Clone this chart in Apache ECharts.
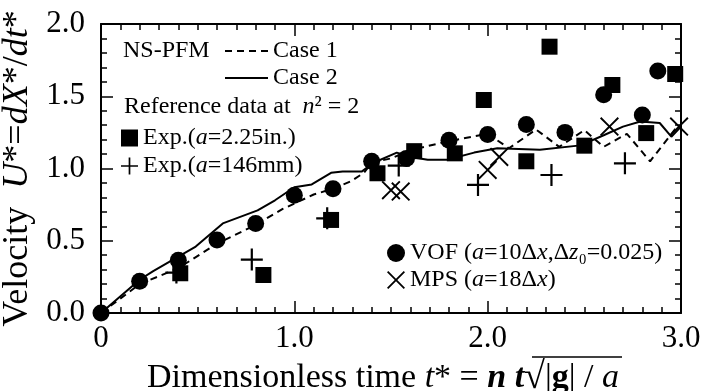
<!DOCTYPE html>
<html>
<head>
<meta charset="utf-8">
<script src="https://cdn.jsdelivr.net/npm/echarts@6/dist/echarts.min.js"></script>
<style>
  html, body { margin: 0; padding: 0; background: #fff; }
  #chart { width: 704px; height: 391px; }
  #err { position: absolute; left: 110px; top: 200px; font: 11px monospace; color: red; white-space: pre; }
</style>
</head>
<body>
<div id="chart"></div>
<div id="err"></div>
<script>
// NS-PFM simulation curves
const case1T = [0, 0.2, 0.4, 0.6, 0.8, 0.94, 1.1, 1.2, 1.29, 1.36, 1.4, 1.5, 1.61, 1.8, 2.0, 2.11, 2.25, 2.37, 2.5, 2.6, 2.72, 2.84, 2.98];
const case1U = [0, 0.2, 0.31, 0.48, 0.61, 0.72, 0.82, 0.86, 0.91, 0.97, 1.04, 1.07, 1.13, 1.19, 1.24, 1.14, 1.27, 1.15, 1.265, 1.15, 1.24, 1.05, 1.29];
const case2T = [0, 0.2, 0.27, 0.4, 0.49, 0.63, 0.81, 0.9, 1.0, 1.09, 1.19, 1.25, 1.35, 1.41, 1.53, 1.6, 1.69, 1.79, 1.93, 2.05, 2.27, 2.48, 2.6, 2.7, 2.79, 2.89, 2.95, 3.0];
const case2U = [0, 0.23, 0.29, 0.39, 0.46, 0.62, 0.71, 0.78, 0.87, 0.89, 0.97, 0.98, 0.98, 1.04, 1.11, 1.08, 1.06, 1.06, 1.11, 1.14, 1.13, 1.16, 1.23, 1.29, 1.325, 1.315, 1.22, 1.29];
// reference data
const expInT = [0.41, 0.84, 1.19, 1.43, 1.62, 1.83, 1.98, 2.2, 2.32, 2.5, 2.645, 2.82, 2.97];
const expInU = [0.275, 0.263, 0.644, 0.967, 1.12, 1.105, 1.474, 1.05, 1.843, 1.158, 1.578, 1.245, 1.654];
const expMmT = [0.39, 0.78, 1.17, 1.54, 1.95, 2.33, 2.71];
const expMmU = [0.28, 0.37, 0.655, 1.02, 0.886, 0.955, 1.036];
const vofT = [0, 0.2, 0.4, 0.6, 0.8, 1.0, 1.2, 1.4, 1.58, 1.8, 2.0, 2.2, 2.4, 2.6, 2.8, 2.88];
const vofU = [0, 0.22, 0.365, 0.505, 0.62, 0.815, 0.86, 1.05, 1.07, 1.195, 1.235, 1.305, 1.25, 1.51, 1.37, 1.675];
const mpsT = [1.5, 1.55, 2.0, 2.06, 2.63, 2.99];
const mpsU = [0.85, 0.84, 0.99, 1.08, 1.29, 1.29];

const FONT = "'Liberation Serif', 'Times New Roman', serif";
const pairs = (xs, ys) => xs.map((x, i) => [x, ys[i]]);

const plusPath = 'path://M9,0h2v9h9v2h-9v9h-2v-9h-9v-2h9z';
const crossPath = 'path://M0,1.4L1.4,0L10,8.6L18.6,0L20,1.4L11.4,10L20,18.6L18.6,20L10,11.4L1.4,20L0,18.6L8.6,10z';

const legendText = {
  'Case 1': '{n|Case 1}',
  'Case 2': '{n|Case 2}',
  'Exp.(a=2.25in.)': '{n|Exp.(}{i|a}{n|=2.25in.)}',
  'Exp.(a=146mm)': '{n|Exp.(}{i|a}{n|=146mm)}',
  'VOF (a=10Δx,Δz0=0.025)': '{n|VOF (}{i|a}{n|=10Δ}{i|x}{n|,Δ}{i|z}{n|₀=0.025)}',
  'MPS (a=18Δx)': '{n|MPS (}{i|a}{n|=18Δ}{i|x}{n|)}'
};
const rich = {
  n: { fontFamily: FONT, fontSize: 24, color: '#000' },
  i: { fontFamily: FONT, fontSize: 24, fontStyle: 'italic', color: '#000' }
};
const legendBase = {
  orient: 'vertical',
  align: 'left',
  padding: 0,
  selectedMode: false,
  formatter: name => legendText[name],
  textStyle: { rich }
};

const axisCommon = (splitNumber) => ({
  axisLine: { show: true, lineStyle: { color: '#000', width: 2 }, onZero: false },
  axisTick: { show: true, inside: true, length: 12, lineStyle: { color: '#000', width: 1.5 } },
  minorTick: { show: true, splitNumber, length: 6, lineStyle: { color: '#000', width: 1.5 } },
  splitLine: { show: false }
});
const noLabel = { show: false };

try {
  const chart = echarts.init(document.getElementById('chart'));
  const option = {
    animation: false,
    grid: { left: 101, right: 23, top: 24, bottom: 78, containLabel: false, outerBoundsMode: 'none' },
    xAxis: [
      Object.assign(axisCommon(10), {
        type: 'value', min: 0, max: 3, interval: 1, position: 'bottom',
        axisLabel: {
          margin: 10, color: '#000', fontFamily: FONT, fontSize: 31,
          formatter: v => (v === 0 ? '0' : v.toFixed(1))
        },
        name: '{n|Dimensionless time }{i|t}{n|* = }{bi|n t}{sq|√}{n||}{b|g}{n|| / }{i|a}',
        nameLocation: 'middle',
        nameGap: 36,
        nameTextStyle: {
          padding: [0, 16, 0, 0],
          rich: {
            n: { fontFamily: FONT, fontSize: 34, color: '#000' },
            i: { fontFamily: FONT, fontSize: 34, fontStyle: 'italic', color: '#000' },
            bi: { fontFamily: FONT, fontSize: 34, fontStyle: 'italic', fontWeight: 'bold', color: '#000' },
            b: { fontFamily: FONT, fontSize: 34, fontWeight: 'bold', color: '#000' },
            sq: { fontFamily: FONT, fontSize: 38, color: '#000' }
          }
        }
      }),
      Object.assign(axisCommon(10), {
        type: 'value', min: 0, max: 3, interval: 1, position: 'top',
        axisLabel: noLabel
      })
    ],
    yAxis: [
      Object.assign(axisCommon(5), {
        type: 'value', min: 0, max: 2, interval: 0.5, position: 'left',
        axisLabel: {
          margin: 16, color: '#000', fontFamily: FONT, fontSize: 31,
          formatter: v => v.toFixed(1)
        },
        name: '{n|Velocity  }{i|U}{n|*=}{i|dX}{n|*/}{i|dt}{n|*}',
        nameLocation: 'middle',
        nameGap: 43,
        nameTextStyle: {
          rich: {
            n: { fontFamily: FONT, fontSize: 36, color: '#000' },
            i: { fontFamily: FONT, fontSize: 36, fontStyle: 'italic', color: '#000' }
          }
        }
      }),
      Object.assign(axisCommon(5), {
        type: 'value', min: 0, max: 2, interval: 0.5, position: 'right',
        axisLabel: noLabel
      })
    ],
    legend: [
      Object.assign({}, legendBase, {
        data: ['Case 1', 'Case 2'],
        left: 224, top: 39, itemWidth: 43, itemHeight: 24, itemGap: 3,
        itemStyle: { opacity: 0 }
      }),
      Object.assign({}, legendBase, {
        data: ['Exp.(a=2.25in.)', 'Exp.(a=146mm)'],
        left: 121, top: 126, itemWidth: 17, itemHeight: 17, itemGap: 4
      }),
      Object.assign({}, legendBase, {
        data: ['VOF (a=10Δx,Δz0=0.025)', 'MPS (a=18Δx)'],
        left: 387, top: 241, itemWidth: 18, itemHeight: 18, itemGap: 3
      })
    ],
    graphic: [
      {
        type: 'text', left: 123, top: 39, silent: true,
        style: { text: 'NS-PFM', font: '24px ' + FONT, fill: '#000' }
      },
      {
        type: 'text', left: 124, top: 95, silent: true,
        style: {
          text: '{n|Reference data at  }{i|n}{n|² = 2}',
          rich: rich
        }
      },
      {
        type: 'line', silent: true,
        shape: { x1: 532, y1: 357, x2: 622, y2: 357 },
        style: { stroke: '#000', lineWidth: 1.5 }
      }
    ],
    series: [
      {
        name: 'Case 1', type: 'line', data: pairs(case1T, case1U),
        symbol: 'none', lineStyle: { color: '#000', width: 2, type: [7, 5] }, z: 2
      },
      {
        name: 'Case 2', type: 'line', data: pairs(case2T, case2U),
        symbol: 'none', lineStyle: { color: '#000', width: 2 }, z: 2
      },
      {
        name: 'Exp.(a=2.25in.)', type: 'scatter', data: pairs(expInT, expInU),
        symbol: 'rect', symbolSize: 16, itemStyle: { color: '#000', opacity: 1 }, z: 3
      },
      {
        name: 'Exp.(a=146mm)', type: 'scatter', data: pairs(expMmT, expMmU),
        symbol: plusPath, symbolSize: 22, itemStyle: { color: '#000', opacity: 1 }, z: 3
      },
      {
        name: 'VOF (a=10Δx,Δz0=0.025)', type: 'scatter', data: pairs(vofT, vofU),
        symbol: 'circle', symbolSize: 17, itemStyle: { color: '#000', opacity: 1 }, z: 3
      },
      {
        name: 'MPS (a=18Δx)', type: 'scatter', data: pairs(mpsT, mpsU),
        symbol: crossPath, symbolSize: 19, itemStyle: { color: '#000', opacity: 1 }, z: 3
      }
    ]
  };
  chart.setOption(option);
} catch (e) {
  document.getElementById('err').textContent = 'ERR ' + e.message + '\n' + (e.stack || '').slice(0, 600);
}
</script>
</body>
</html>
